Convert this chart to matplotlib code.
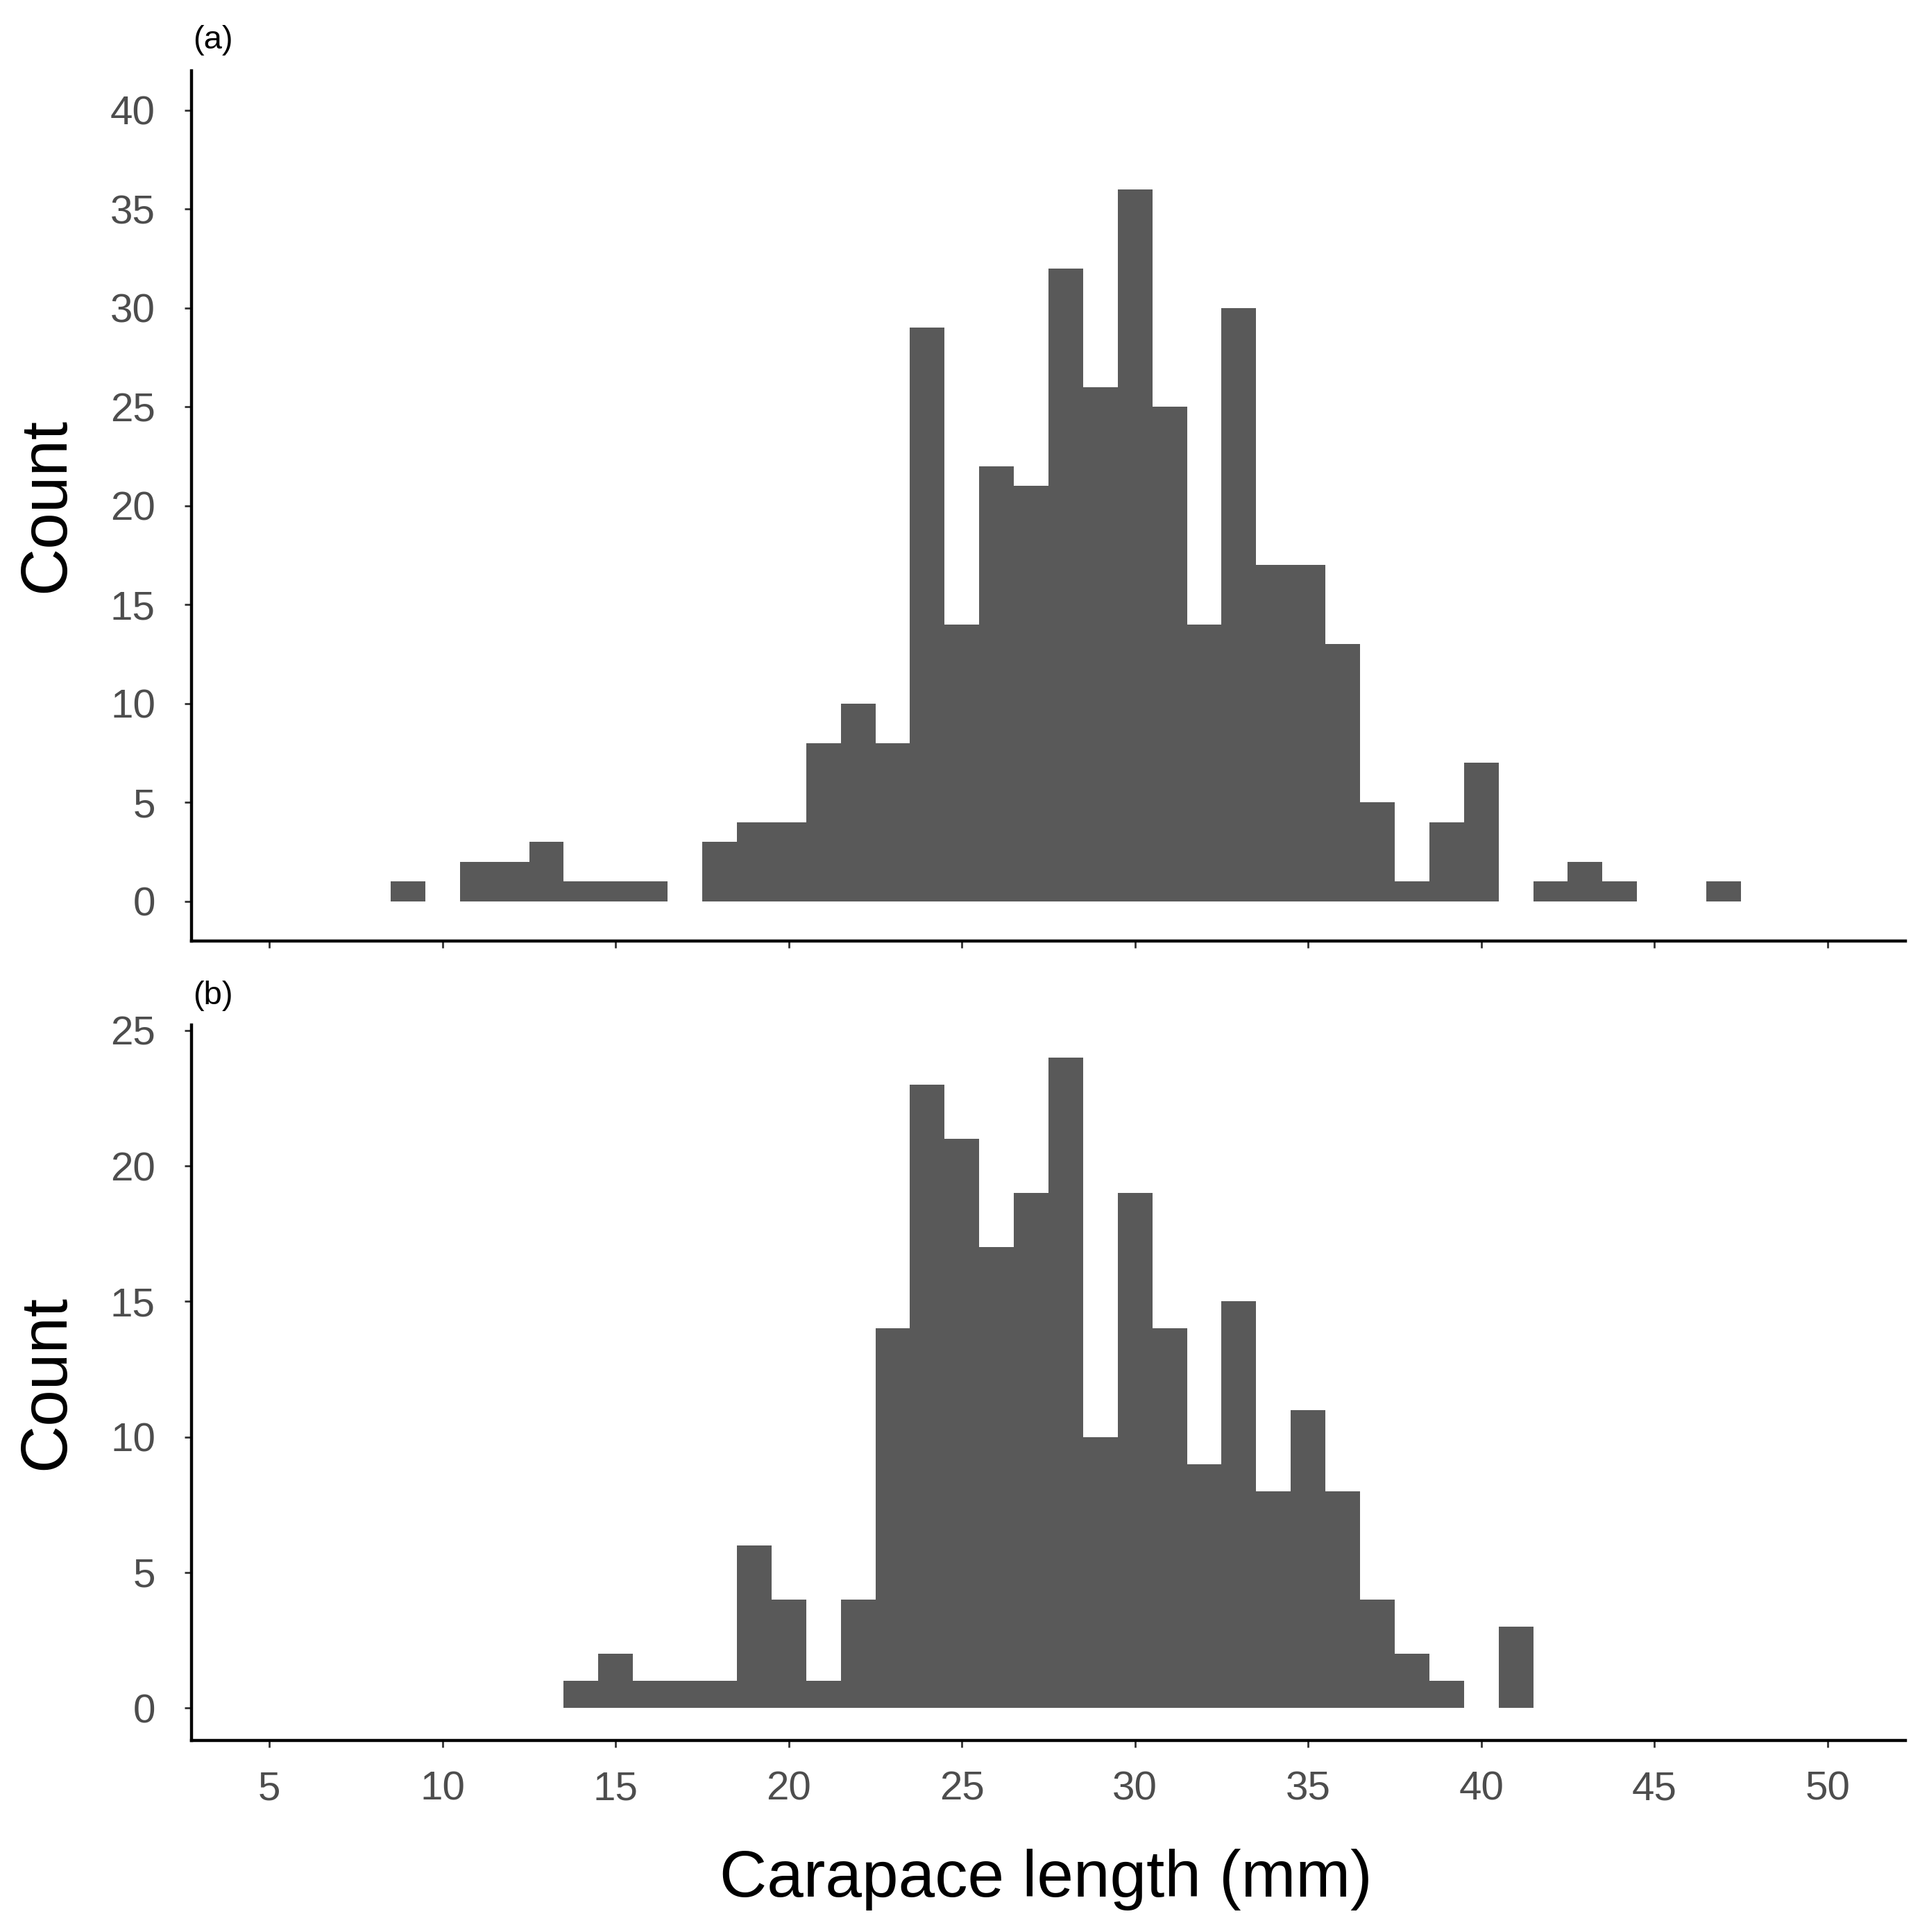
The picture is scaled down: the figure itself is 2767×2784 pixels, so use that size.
import matplotlib.pyplot as plt

# 히스토그램 데이터 (구간 중심값, 개수)
bins_a = list(range(9, 48))
counts_a = [1, 0, 2, 2, 3, 1, 1, 1, 0, 3, 4, 4, 8, 10, 8, 29, 14, 22, 21, 32,
            26, 36, 25, 14, 30, 17, 17, 13, 5, 1, 4, 7, 0, 1, 2, 1, 0, 0, 1]

bins_b = list(range(14, 42))
counts_b = [1, 2, 1, 1, 1, 6, 4, 1, 4, 14, 23, 21, 17, 19, 24, 10, 19, 14, 9,
            15, 8, 11, 8, 4, 2, 1, 0, 3]

x_ticks = [5, 10, 15, 20, 25, 30, 35, 40, 45, 50]
yticks_a = [0, 5, 10, 15, 20, 25, 30, 35, 40]
yticks_b = [0, 5, 10, 15, 20, 25]

plt.rcParams['font.family'] = ['Liberation Sans', 'DejaVu Sans']

W, H = 2767, 2784
fig = plt.figure(figsize=(W / 100, H / 100), dpi=100)

left = 276 / W
width = (2746 - 276) / W
ax_a = fig.add_axes([left, 1 - 1356 / H, width, (1356 - 102) / H])
ax_b = fig.add_axes([left, 1 - 2508 / H, width, (2508 - 1477) / H])


def style(ax, ylim, yticks, show_xlabels):
    ax.set_xlim(2.75, 52.25)
    ax.set_ylim(*ylim)
    ax.set_xticks(x_ticks)
    ax.set_yticks(yticks)
    for s in ['top', 'right']:
        ax.spines[s].set_visible(False)
    for s in ['left', 'bottom']:
        ax.spines[s].set_linewidth(3.2)
        ax.spines[s].set_color('black')
    ax.tick_params(axis='both', length=7.5, width=2, color='#333333',
                   labelsize=42, labelcolor='#4D4D4D')
    ax.tick_params(axis='y', pad=30)
    ax.tick_params(axis='x', pad=24)
    if not show_xlabels:
        ax.set_xticklabels([])


# 패널 (a)
ax_a.bar(bins_a, counts_a, width=1.0, color='#595959', linewidth=0)
style(ax_a, (-2, 42), yticks_a, False)

# 패널 (b)
ax_b.bar(bins_b, counts_b, width=1.0, color='#595959', linewidth=0)
style(ax_b, (-1.2, 25.2), yticks_b, True)

# 라벨
fig.text(278 / W, 1 - 70 / H, '(a)', fontsize=34, ha='left', va='baseline')
fig.text(278 / W, 1 - 1447 / H, '(b)', fontsize=34, ha='left', va='baseline')
fig.text(68 / W, 1 - 728 / H, 'Count', fontsize=68, rotation=90,
         ha='center', va='center')
fig.text(68 / W, 1 - 1992 / H, 'Count', fontsize=68, rotation=90,
         ha='center', va='center')
fig.text(1507 / W, 1 - 2733 / H, 'Carapace length (mm)', fontsize=68,
         ha='center', va='baseline')

fig.savefig('out.png', dpi=100, facecolor='white')
